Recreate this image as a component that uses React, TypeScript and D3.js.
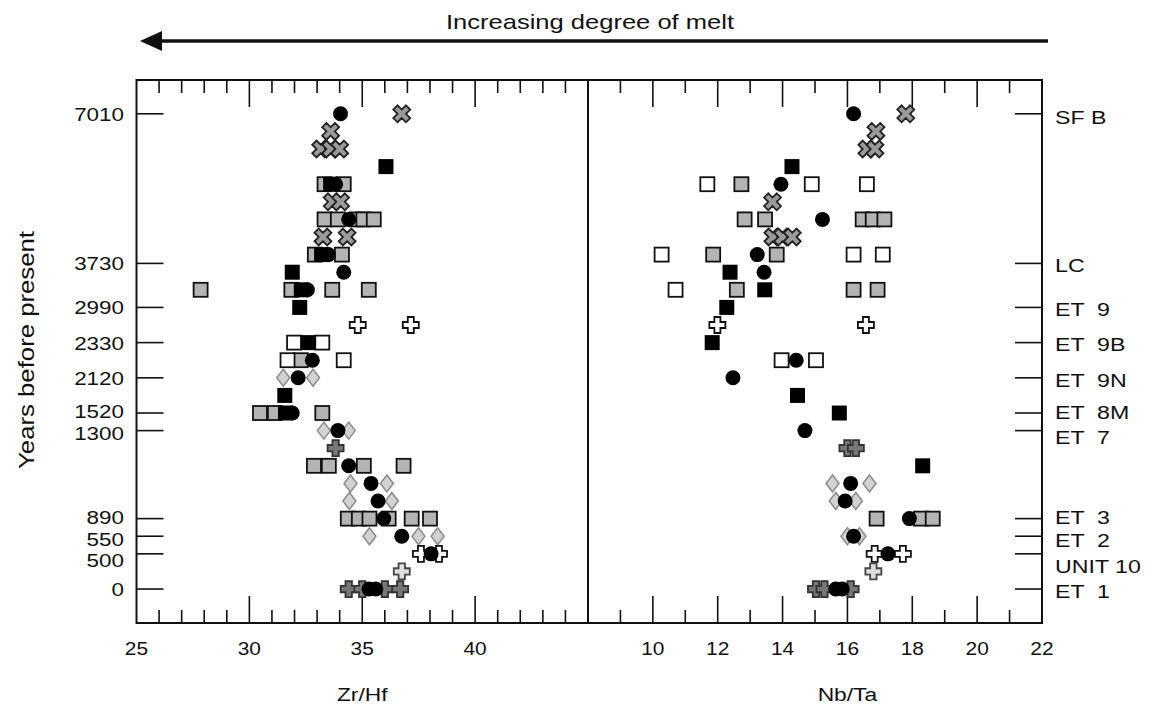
import * as d3 from "d3";

// row positions: 0 = youngest unit (0 yrs), 27 = oldest (7010 yrs)
const yearTicks = ["7010", "3730", "2990", "2330", "2120", "1520", "1300", "890", "550", "500", "0"];
const tickRows = [27, 18.5, 16, 14, 12, 10, 9, 4, 3, 2, 0];
const labelRows = [27, 18.5, 16, 14, 12, 10.1, 8.85, 4.1, 2.85, 1.65, 0];
const unitNames = ["SF B", "LC", "ET  9", "ET  9B", "ET  9N", "ET  8M", "ET  7", "ET  3", "ET  2", "UNIT 10", "ET  1"];
const unitRows = [26.8, 18.4, 15.9, 13.9, 11.9, 10.05, 8.65, 4.1, 2.8, 1.3, -0.1];

const zrHfTicks = [25, 30, 35, 40];
const nbTaTicks = [10, 12, 14, 16, 18, 20, 22];

// [ratio, row]
const zrBlackCircle = [[34.04, 27], [33.82, 23], [34.4, 21], [33.5, 19], [34.18, 18], [32.57, 17], [32.79, 13], [32.16, 12], [31.9, 10], [33.92, 9], [34.4, 7], [35.39, 6], [35.7, 5], [35.95, 4], [36.75, 3], [38.05, 2], [35.3, 0], [35.6, 0]];
const zrBlackSquare = [[36.05, 24], [33.6, 23], [33.2, 19], [31.9, 18], [32.3, 17], [32.23, 16], [32.6, 14], [31.57, 11], [31.6, 10]];
const zrGraySquare = [[33.33, 23], [34.18, 23], [33.33, 21], [33.92, 21], [34.75, 21], [35.05, 21], [35.51, 21], [32.9, 19], [34.1, 19], [27.84, 17], [31.86, 17], [33.67, 17], [35.29, 17], [32.28, 13], [30.47, 10], [31.13, 10], [33.23, 10], [32.86, 7], [33.52, 7], [35.07, 7], [36.83, 7], [34.36, 4], [34.85, 4], [35.32, 4], [36.17, 4], [37.19, 4], [38.0, 4]];
const zrWhiteSquare = [[31.98, 14], [33.23, 14], [31.69, 13], [34.18, 13]];
const zrGrayDiamond = [[31.5, 12], [32.82, 12], [33.3, 9], [34.4, 9], [34.48, 6], [36.09, 6], [34.43, 5], [36.31, 5], [35.32, 3], [37.49, 3], [38.34, 3]];
const zrXCross = [[36.75, 27], [33.6, 26], [33.16, 25], [33.6, 25], [34.0, 25], [33.67, 22], [34.04, 22], [33.26, 20], [34.33, 20]];
const zrWhitePlus = [[34.8, 15], [37.15, 15], [37.6, 2], [38.4, 2]];
const zrLightPlus = [[36.75, 1]];
const zrDarkPlus = [[33.82, 8], [34.4, 0], [35.0, 0], [36.0, 0], [36.68, 0]];

const nbBlackCircle = [[16.19, 27], [13.95, 23], [15.23, 21], [13.22, 19], [13.43, 18], [14.42, 13], [12.47, 12], [14.69, 9], [16.1, 6], [15.93, 5], [17.91, 4], [16.19, 3], [17.25, 2], [15.64, 0], [15.84, 0]];
const nbBlackSquare = [[14.29, 24], [12.38, 18], [13.45, 17], [12.28, 16], [11.83, 14], [14.46, 11], [15.75, 10], [18.32, 7]];
const nbGraySquare = [[12.73, 23], [12.83, 21], [13.46, 21], [16.47, 21], [16.78, 21], [17.14, 21], [11.86, 19], [13.82, 19], [12.59, 17], [16.19, 17], [16.93, 17], [16.9, 4], [18.27, 4], [18.63, 4]];
const nbWhiteSquare = [[11.68, 23], [14.9, 23], [16.6, 23], [10.27, 19], [16.19, 19], [17.09, 19], [10.7, 17], [13.97, 13], [15.03, 13]];
const nbGrayDiamond = [[15.54, 6], [16.68, 6], [15.64, 5], [16.26, 5], [16.0, 3], [16.37, 3]];
const nbXCross = [[17.8, 27], [16.88, 26], [16.6, 25], [16.85, 25], [13.69, 22], [13.7, 20], [14.0, 20], [14.3, 20]];
const nbWhitePlus = [[11.99, 15], [16.57, 15], [16.84, 2], [17.71, 2]];
const nbLightPlus = [[16.8, 1]];
const nbDarkPlus = [[16.0, 8], [16.26, 8], [15.03, 0], [15.29, 0], [16.1, 0]];

const W = 1152;
const H = 706;
const left = 136.5;
const mid = 588;
const right = 1042;
const top = 80;
const bottom = 623;

const xL = d3.scaleLinear().domain([25, 45]).range([left, mid]);
const xR = d3.scaleLinear().domain([8, 22]).range([mid, right]);
const y = d3.scaleLinear().domain([-1.93, 28.92]).range([bottom, top]);

const font = "'Liberation Sans', Arial, Helvetica, sans-serif";

function plusPath(a: number, b: number) {
    return `M${-b},${-a}H${b}V${-b}H${a}V${b}H${b}V${a}H${-b}V${b}H${-a}V${-b}H${-b}Z`;
}

type Pt = number[];

function Markers({ data, x, kind }: { data: Pt[]; x: d3.ScaleLinear<number, number>; kind: string }) {
    return (
        <g>
            {data.map((d, i) => {
                const cx = x(d[0]);
                const cy = y(d[1]);
                const t = `translate(${cx},${cy})`;
                if (kind === "blackCircle") return <circle key={i} cx={cx} cy={cy} r={7.5} fill="#000" />;
                if (kind === "blackSquare") return <rect key={i} x={cx - 7.5} y={cy - 7.5} width={15} height={15} fill="#000" />;
                if (kind === "graySquare")
                    return <rect key={i} x={cx - 7} y={cy - 7} width={14} height={14} fill="#b4b4b4" stroke="#111" strokeWidth={1.8} />;
                if (kind === "whiteSquare")
                    return <rect key={i} x={cx - 7} y={cy - 7} width={14} height={14} fill="#fff" stroke="#111" strokeWidth={1.8} />;
                if (kind === "grayDiamond")
                    return <path key={i} transform={t} d="M0,-8.5L6.5,0L0,8.5L-6.5,0Z" fill="#d2d2d2" stroke="#8c8c8c" strokeWidth={1.5} />;
                if (kind === "xCross")
                    return <path key={i} transform={t + " rotate(45)"} d={plusPath(9, 3)} fill="#9a9a9a" stroke="#222" strokeWidth={1.8} />;
                if (kind === "whitePlus")
                    return <path key={i} transform={t} d={plusPath(8, 3)} fill="#fff" stroke="#111" strokeWidth={1.8} />;
                if (kind === "lightPlus")
                    return <path key={i} transform={t} d={plusPath(8, 3.2)} fill="#dedede" stroke="#444" strokeWidth={1.8} />;
                return <path key={i} transform={t} d={plusPath(8, 3.2)} fill="#777" stroke="#333" strokeWidth={1.8} />;
            })}
        </g>
    );
}

function Panel({ x, sets }: { x: d3.ScaleLinear<number, number>; sets: [string, Pt[]][] }) {
    return (
        <g>
            {sets.map(([kind, data]) => (
                <Markers key={kind} data={data} x={x} kind={kind} />
            ))}
        </g>
    );
}

function XTicks({ x, minor, major }: { x: d3.ScaleLinear<number, number>; minor: number[]; major: number[] }) {
    return (
        <g stroke="#111" strokeWidth={1.6}>
            {minor.map(v => (
                <g key={"m" + v}>
                    <line x1={x(v)} x2={x(v)} y1={bottom} y2={bottom - 13} />
                    <line x1={x(v)} x2={x(v)} y1={top} y2={top + 13} />
                </g>
            ))}
            {major.map(v => (
                <g key={"M" + v}>
                    <line x1={x(v)} x2={x(v)} y1={bottom} y2={bottom - 27} />
                    <line x1={x(v)} x2={x(v)} y1={top} y2={top + 27} />
                </g>
            ))}
        </g>
    );
}

// text widened horizontally, like the scanned figure's lettering
function Wide({ x, y: yy, sx, size, anchor, children }: { x: number; y: number; sx: number; size: number; anchor?: string; children: any }) {
    return (
        <text transform={`translate(${x},${yy}) scale(${sx},1)`} textAnchor={anchor || "start"} fontSize={size} fill="#111" style={{ whiteSpace: "pre" }}>
            {children}
        </text>
    );
}

export default function App() {
    const zrSets: [string, Pt[]][] = [
        ["graySquare", zrGraySquare],
        ["whiteSquare", zrWhiteSquare],
        ["grayDiamond", zrGrayDiamond],
        ["xCross", zrXCross],
        ["whitePlus", zrWhitePlus],
        ["lightPlus", zrLightPlus],
        ["darkPlus", zrDarkPlus],
        ["blackSquare", zrBlackSquare],
        ["blackCircle", zrBlackCircle],
    ];
    const nbSets: [string, Pt[]][] = [
        ["graySquare", nbGraySquare],
        ["whiteSquare", nbWhiteSquare],
        ["grayDiamond", nbGrayDiamond],
        ["xCross", nbXCross],
        ["whitePlus", nbWhitePlus],
        ["lightPlus", nbLightPlus],
        ["darkPlus", nbDarkPlus],
        ["blackSquare", nbBlackSquare],
        ["blackCircle", nbBlackCircle],
    ];

    const zrMinor = d3.range(26, 45).filter(v => v % 5 !== 0);
    const zrMajor = [30, 35, 40];
    const nbMinor = d3.range(9, 22, 2);
    const nbMajor = d3.range(10, 21, 2);

    return (
        <svg width={W} height={H} style={{ position: "absolute", left: 0, top: 0, background: "#fff" }} fontFamily={font}>
            {/* title arrow */}
            <text x={590} y={29} textAnchor="middle" fontSize={21} fill="#111" textLength={288} lengthAdjust="spacingAndGlyphs">
                Increasing degree of melt
            </text>
            <line x1={158} x2={1048} y1={41} y2={41} stroke="#111" strokeWidth={3.5} />
            <path d="M140,41L162,31L162,51Z" fill="#111" />

            {/* frame */}
            <rect x={left} y={top} width={right - left} height={bottom - top} fill="none" stroke="#111" strokeWidth={2} />
            <line x1={mid} x2={mid} y1={top} y2={bottom} stroke="#111" strokeWidth={2} />

            <XTicks x={xL} minor={zrMinor} major={zrMajor} />
            <XTicks x={xR} minor={nbMinor} major={nbMajor} />

            {/* row ticks */}
            <g stroke="#111" strokeWidth={1.6}>
                {tickRows.map((r, i) => (
                    <g key={i}>
                        <line x1={left} x2={left + 27} y1={y(r)} y2={y(r)} />
                        <line x1={right} x2={right - 27} y1={y(r)} y2={y(r)} />
                    </g>
                ))}
            </g>

            <Panel x={xL} sets={zrSets} />
            <Panel x={xR} sets={nbSets} />

            {/* labels */}
            {yearTicks.map((t, i) => (
                <Wide key={t} x={124} y={y(labelRows[i]) + 7} sx={1.18} size={19} anchor="end">
                    {t}
                </Wide>
            ))}
            {unitNames.map((t, i) => (
                <Wide key={t} x={1055} y={y(unitRows[i]) + 7} sx={1.22} size={19}>
                    {t}
                </Wide>
            ))}
            {zrHfTicks.map(v => (
                <Wide key={"z" + v} x={xL(v)} y={655} sx={1.1} size={19} anchor="middle">
                    {v}
                </Wide>
            ))}
            {nbTaTicks.map(v => (
                <Wide key={"n" + v} x={xR(v)} y={655} sx={1.1} size={19} anchor="middle">
                    {v}
                </Wide>
            ))}
            <Wide x={xL(35)} y={701} sx={1.2} size={19} anchor="middle">
                Zr/Hf
            </Wide>
            <Wide x={xR(16)} y={701} sx={1.2} size={19} anchor="middle">
                Nb/Ta
            </Wide>
            <text transform="translate(34,350) rotate(-90)" textAnchor="middle" fontSize={22} fill="#111" textLength={238} lengthAdjust="spacingAndGlyphs">
                Years before present
            </text>
        </svg>
    );
}
